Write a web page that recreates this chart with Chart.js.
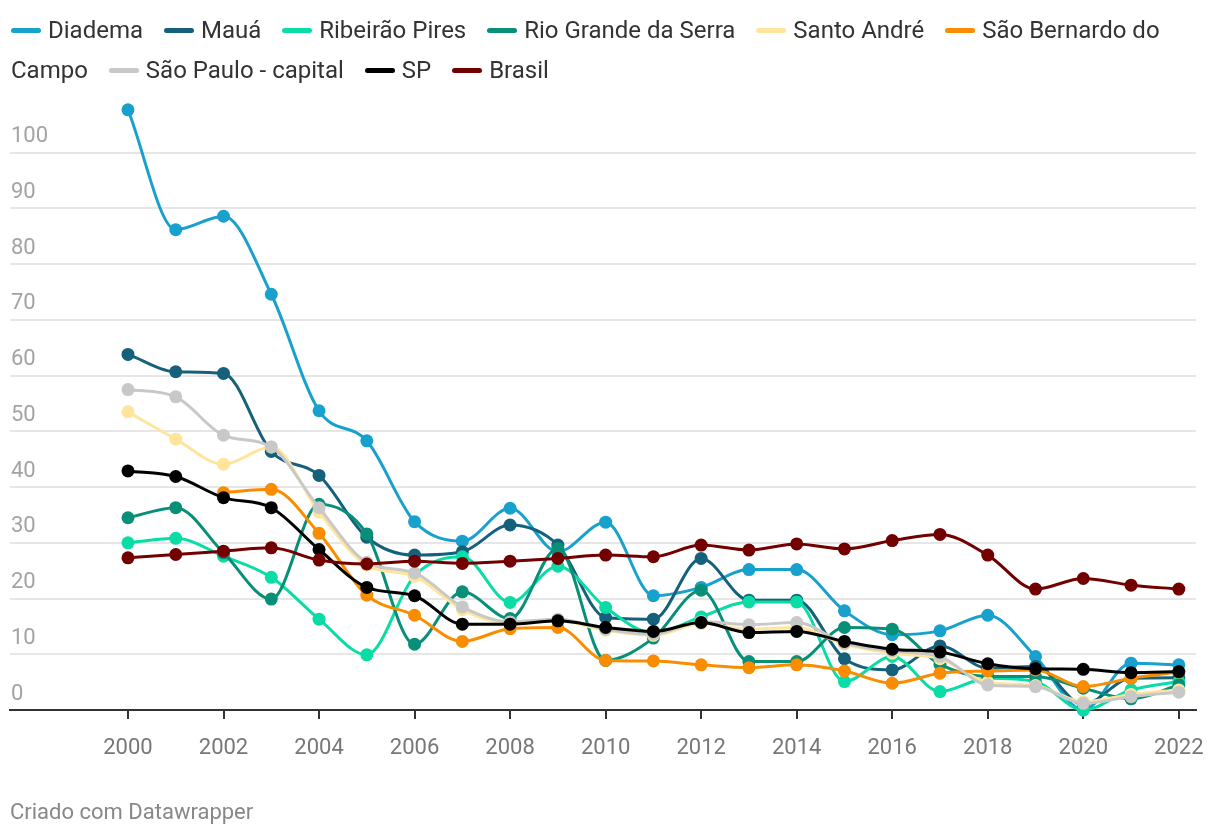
<!DOCTYPE html>
<html>
<head>
<meta charset="utf-8">
<script src="https://cdn.jsdelivr.net/npm/chart.js@4/dist/chart.umd.min.js"></script>
<style>
  body { margin: 0; background: #fff; font-family: Roboto, sans-serif; }
  #wrap { position: relative; width: 1220px; height: 836px; }
  #chart { position: absolute; left: 0; top: 0; }
  #legend { position: absolute; left: 11px; top: 10px; width: 1200px; font-size: 24px; line-height: 40px; color: #333; }
  #legend .item { margin-right: 15px; }
  #legend .mk { display: inline-block; width: 30px; height: 5px; border-radius: 3px; vertical-align: middle; margin-right: 7px; position: relative; top: -1px; }
  #foot { position: absolute; left: 10px; top: 800px; font-size: 22px; line-height: 24px; color: #888; }
</style>
</head>
<body>
<div id="wrap">
  <canvas id="chart" width="1220" height="836"></canvas>
  <div id="legend"></div>
  <div id="foot">Criado com Datawrapper</div>
</div>
<script>
const years = [2000, 2001, 2002, 2003, 2004, 2005, 2006, 2007, 2008, 2009, 2010, 2011,
               2012, 2013, 2014, 2015, 2016, 2017, 2018, 2019, 2020, 2021, 2022];
const xTicks = [2000, 2002, 2004, 2006, 2008, 2010, 2012, 2014, 2016, 2018, 2020, 2022];
const yTicks = [0, 10, 20, 30, 40, 50, 60, 70, 80, 90, 100];

const names = ["Diadema", "Mauá", "Ribeirão Pires", "Rio Grande da Serra", "Santo André",
               "São Bernardo do Campo", "São Paulo - capital", "SP", "Brasil"];
const colors = ["#18a1cd", "#15607a", "#09dca4", "#088f78", "#ffe59c",
                "#fa8c00", "#c8c8c8", "#000000", "#730000"];

const diadema = [107.7, 86.2, 88.6, 74.6, 53.7, 48.3, 33.8, 30.3, 36.2, 28.4, 33.7, 20.5,
                 22.0, 25.2, 25.2, 17.8, 13.5, 14.2, 17.0, 9.6, 0.0, 8.4, 8.1];
const maua = [63.8, 60.7, 60.4, 46.4, 42.1, 31.0, 27.8, 28.4, 33.2, 29.6, 16.6, 16.3,
              27.2, 19.7, 19.7, 9.2, 7.2, 11.5, 7.5, 7.8, 1.0, 5.7, 5.8];
const ribeirao = [30.0, 30.8, 27.6, 23.8, 16.3, 9.9, 24.1, 27.5, 19.3, 25.8, 18.4, 13.8,
                  16.7, 19.4, 19.4, 5.1, 9.6, 3.3, 5.7, 5.1, 0.0, 3.6, 5.1];
const rioGrande = [34.5, 36.3, 28.2, 19.9, 36.9, 31.6, 11.8, 21.2, 16.4, 29.0, 8.9, 12.9,
                   21.5, 8.7, 8.7, 14.8, 14.5, 8.2, 6.0, 6.0, 3.9, 2.0, 4.5];
const santoAndre = [53.5, 48.6, 44.1, 47.2, 35.5, 26.0, 24.0, 18.0, 15.5, 16.0, 14.3, 13.4,
                    15.5, 14.5, 14.8, 11.8, 10.2, 9.2, 5.0, 4.4, 1.5, 2.8, 3.6];
const saoBernardo = [null, null, 39.0, 39.6, 31.7, 20.6, 17.0, 12.3, 14.6, 14.8, 8.9, 8.8,
                     8.1, 7.6, 8.1, 7.0, 4.8, 6.6, 7.0, 7.2, 4.2, 5.7, 6.8];
const spCapital = [57.5, 56.2, 49.3, 47.2, 36.3, 26.5, 24.6, 18.5, 15.8, 16.3, 14.5, 13.6,
                   15.9, 15.3, 15.7, 12.0, 10.6, 9.6, 4.5, 4.2, 1.2, 2.4, 3.2];
const sp = [42.9, 41.9, 38.1, 36.3, 28.8, 22.0, 20.5, 15.4, 15.4, 16.0, 14.8, 14.1,
            15.7, 13.9, 14.1, 12.3, 10.9, 10.4, 8.3, 7.4, 7.3, 6.7, 6.9];
const brasil = [27.3, 27.9, 28.5, 29.1, 26.9, 26.2, 26.7, 26.3, 26.7, 27.2, 27.8, 27.5,
                29.6, 28.7, 29.8, 28.9, 30.4, 31.5, 27.8, 21.7, 23.6, 22.4, 21.7];

const series = [diadema, maua, ribeirao, rioGrande, santoAndre, saoBernardo, spCapital, sp, brasil];

// legend in html so "São Bernardo do Campo" wraps like the original
let leg = '';
names.forEach(function(n, i) {
  leg += `<span class="item"><span class="mk" style="background:${colors[i]}"></span>${n}</span> `;
});
document.getElementById('legend').innerHTML = leg;

const datasets = series.map(function(vals, i) {
  return {
    label: names[i],
    data: years.map((y, j) => ({ x: y, y: vals[j] })),
    borderColor: colors[i],
    backgroundColor: colors[i],
    borderWidth: 3,
    pointRadius: 6.5,
    pointBorderWidth: 0,
    pointBackgroundColor: colors[i],
    cubicInterpolationMode: 'monotone',
    clip: false,
    order: series.length - i
  };
});

new Chart(document.getElementById('chart'), {
  type: 'line',
  data: { datasets: datasets },
  options: {
    responsive: false,
    animation: false,
    devicePixelRatio: 1,
    layout: { padding: { left: 10, right: 24, top: 97, bottom: 0 } },
    plugins: { legend: { display: false }, tooltip: { enabled: false } },
    scales: {
      x: {
        type: 'linear',
        min: 1997.53,
        max: 2022.36,
        afterBuildTicks: function(scale) { scale.ticks = xTicks.map(v => ({ value: v })); },
        afterFit: function(scale) { scale.height = 126; },
        grid: { drawOnChartArea: false, drawTicks: true, tickLength: 9, color: '#333', lineWidth: 2 },
        border: { display: true, color: '#333', width: 2 },
        ticks: {
          autoSkip: false, maxRotation: 0, padding: 16,
          color: '#777', font: { family: 'Roboto', size: 22 },
          callback: v => String(v)
        }
      },
      y: {
        min: 0,
        max: 110,
        afterBuildTicks: function(scale) { scale.ticks = yTicks.map(v => ({ value: v })); },
        afterFit: function(scale) { scale.width = 0; },
        grid: { color: '#e6e6e6', lineWidth: 2, drawTicks: false },
        border: { display: false },
        ticks: {
          mirror: true, padding: 1, labelOffset: -16,
          color: '#a3a3a3', font: { family: 'Roboto', size: 22 }
        }
      }
    }
  }
});
</script>
</body>
</html>
